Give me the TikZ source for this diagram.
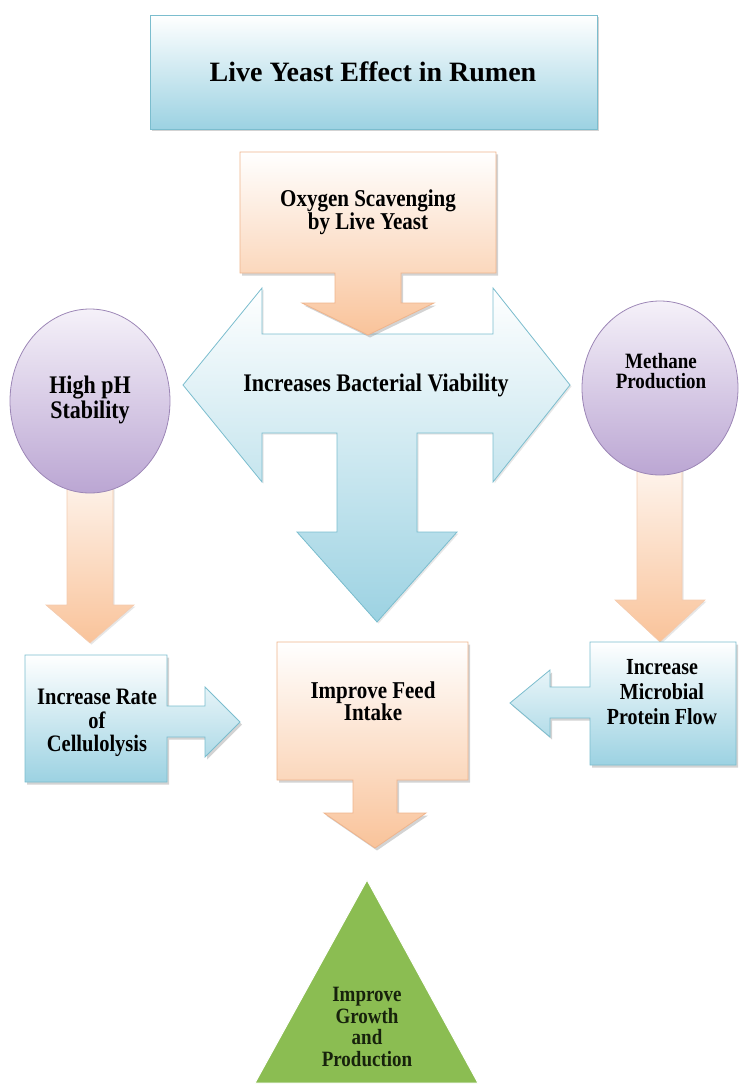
\documentclass[tikz,border=0pt]{standalone}
\usepackage{fontspec}
\setmainfont{Liberation Serif}
\usetikzlibrary{shadows,shapes.geometric}
\definecolor{blueBot}{HTML}{9CD2E2}
\definecolor{blueLine}{HTML}{7BBDCE}
\definecolor{peachBot}{HTML}{F9C39A}
\definecolor{peachLine}{HTML}{EFB48C}
\definecolor{purpTop}{HTML}{F5F1F9}
\definecolor{purpBot}{HTML}{BBA6D3}
\definecolor{purpLine}{HTML}{9C86B6}
\definecolor{triGreen}{HTML}{8BBD52}
\definecolor{triText}{HTML}{17220C}
\begin{document}
\begin{tikzpicture}[x=1pt,y=-1pt,
  shad/.style={drop shadow={shadow xshift=2pt,shadow yshift=-2.5pt,opacity=0.35}},
  lshad/.style={drop shadow={shadow xshift=1.5pt,shadow yshift=-1.5pt,opacity=0.2}},
  bluebox/.style={draw=blueLine,line width=0.8pt,top color=white,bottom color=blueBot},
  peachbox/.style={draw=peachLine,line width=0.8pt,top color=white,bottom color=peachBot},
  peacharrow/.style={draw=peachLine!70,line width=0.6pt,top color=peachBot!15,bottom color=peachBot},
  purpell/.style={draw=purpLine,line width=0.8pt,top color=purpTop,bottom color=purpBot},
  lbl/.style={font=\bfseries,align=center,text=black,inner sep=0pt},
  tall/.style={yscale=1.15,transform shape}]
\useasboundingbox (0,0) rectangle (739,1086);

% ---- title
\path[bluebox,shad] (150,15) rectangle (597,129);
\node[lbl,font=\bfseries\fontsize{28}{30}\selectfont] (title) at (373,72) {Live Yeast Effect in Rumen};

% ---- T arrow (left/right/down)
\path[bluebox,lshad] (262,334) -- (493,334) -- (493,288) -- (570,385) -- (493,482) -- (493,433)
  -- (417,433) -- (417,532) -- (457,532) -- (377,622) -- (297,532) -- (337,532) -- (337,433)
  -- (262,433) -- (262,482) -- (183,385) -- (262,288) -- cycle;
\node[lbl,tall,font=\bfseries\fontsize{22}{24}\selectfont] (viab) at (376,385) {Increases Bacterial Viability};

% ---- oxygen callout
\path[peachbox,shad] (240,152) -- (496,152) -- (496,273) -- (401,273) -- (401,303) -- (434,303)
  -- (368,335) -- (302,303) -- (335,303) -- (335,273) -- (240,273) -- cycle;
\node[lbl,tall,font=\bfseries\fontsize{21}{18.9}\selectfont] (oxy) at (368,212) {Oxygen Scavenging\\by Live Yeast};

% ---- down arrows from ellipses
\path[peacharrow,lshad] (67,470) -- (113,470) -- (113,605) -- (134,605) -- (90,643) -- (46,605) -- (67,605) -- cycle;
\path[peacharrow,lshad] (637,460) -- (682,460) -- (682,600) -- (705,600) -- (660,642) -- (615,600) -- (637,600) -- cycle;

% ---- ellipses
\node[purpell,ellipse,minimum width=160,minimum height=184,inner sep=0pt] (phell) at (90,401) {};
\node[lbl,tall,font=\bfseries\fontsize{22}{17}\selectfont] (ph) at (90,400) {High pH\\Stability};
\node[purpell,ellipse,minimum width=156,minimum height=174,inner sep=0pt] (meell) at (660,388) {};
\node[lbl,tall,font=\bfseries\fontsize{19}{17.4}\selectfont] (meth) at (661,371) {Methane\\Production};

% ---- cellulolysis callout
\path[bluebox,shad] (25,655) -- (167,655) -- (167,706) -- (205,706) -- (205,687) -- (240,722)
  -- (205,757) -- (205,737) -- (167,737) -- (167,782) -- (25,782) -- cycle;
\node[lbl,tall,font=\bfseries\fontsize{20.5}{20.4}\selectfont] (cell) at (97,723) {Increase Rate\\of\\Cellulolysis};

% ---- microbial callout
\path[bluebox,shad] (590,642) -- (736,642) -- (736,765) -- (590,765) -- (590,718) -- (550,718)
  -- (550,737) -- (510,703) -- (550,670) -- (550,687) -- (590,687) -- cycle;
\node[lbl,tall,font=\bfseries\fontsize{20}{21.7}\selectfont] (micro) at (662,692) {Increase\\Microbial\\Protein Flow};

% ---- feed callout
\path[peachbox,shad] (277,642) -- (468,642) -- (468,780) -- (397,780) -- (397,813) -- (426,813)
  -- (375,848) -- (324,813) -- (353,813) -- (353,780) -- (277,780) -- cycle;
\node[lbl,tall,font=\bfseries\fontsize{21}{19.1}\selectfont] (feed) at (373,701) {Improve Feed\\Intake};

% ---- triangle
\path[fill=triGreen,draw=white,line width=1pt] (367,880) -- (478,1083) -- (255,1083) -- cycle;
\node[lbl,tall,text=triText,font=\bfseries\fontsize{19}{18.9}\selectfont] (grow) at (367,1027) {Improve\\Growth\\and\\Production};
\end{tikzpicture}
\end{document}
